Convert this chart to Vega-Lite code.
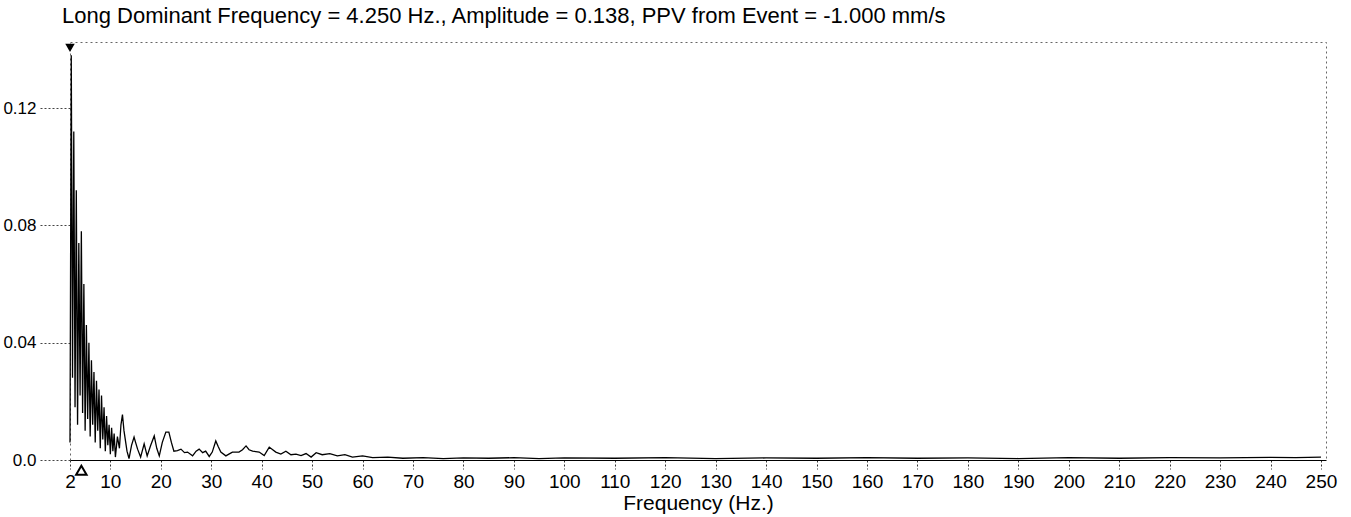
{
  "$schema": "https://vega.github.io/schema/vega-lite/v6.json",
  "width": 1256,
  "height": 418,
  "autosize": {"type": "none"},
  "padding": {"left": 70, "top": 42, "right": 25, "bottom": 57},
  "background": "white",
  "config": {
    "font": "Liberation Sans",
    "view": {"stroke": "#666", "strokeDash": [2, 3], "strokeWidth": 1},
    "axis": {"labelColor": "black", "titleColor": "black", "labelFont": "Liberation Sans", "titleFont": "Liberation Sans"}
  },
  "title": {
    "text": "Long Dominant Frequency = 4.250 Hz., Amplitude = 0.138,  PPV from Event = -1.000 mm/s",
    "anchor": "start",
    "frame": "group",
    "fontSize": 22,
    "fontWeight": "normal",
    "font": "Liberation Sans",
    "color": "black",
    "dx": -8,
    "offset": 14
  },
  "datasets": {
    "spectrum": [
      {"f": 2.0, "a": 0.006}, {"f": 2.25, "a": 0.138}, {"f": 2.5, "a": 0.028}, {"f": 2.75, "a": 0.112},
      {"f": 3.0, "a": 0.018}, {"f": 3.25, "a": 0.092}, {"f": 3.5, "a": 0.012}, {"f": 3.75, "a": 0.074},
      {"f": 4.0, "a": 0.022}, {"f": 4.25, "a": 0.078}, {"f": 4.5, "a": 0.016}, {"f": 4.75, "a": 0.06},
      {"f": 5.0, "a": 0.01}, {"f": 5.25, "a": 0.046}, {"f": 5.5, "a": 0.014}, {"f": 5.75, "a": 0.04},
      {"f": 6.0, "a": 0.008}, {"f": 6.25, "a": 0.034}, {"f": 6.5, "a": 0.012}, {"f": 6.75, "a": 0.03},
      {"f": 7.0, "a": 0.006}, {"f": 7.25, "a": 0.027}, {"f": 7.5, "a": 0.01}, {"f": 7.75, "a": 0.024},
      {"f": 8.0, "a": 0.004}, {"f": 8.25, "a": 0.022}, {"f": 8.5, "a": 0.007}, {"f": 8.75, "a": 0.018},
      {"f": 9.0, "a": 0.003}, {"f": 9.25, "a": 0.015}, {"f": 9.5, "a": 0.005}, {"f": 9.75, "a": 0.012},
      {"f": 10.0, "a": 0.002}, {"f": 10.25, "a": 0.011}, {"f": 10.5, "a": 0.003}, {"f": 10.75, "a": 0.009},
      {"f": 11.0, "a": 0.001}, {"f": 11.4, "a": 0.008}, {"f": 11.8, "a": 0.004}, {"f": 12.1, "a": 0.012},
      {"f": 12.4, "a": 0.0155}, {"f": 12.7, "a": 0.01}, {"f": 13.0, "a": 0.0065}, {"f": 13.3, "a": 0.003},
      {"f": 13.7, "a": 0.0005}, {"f": 14.2, "a": 0.005}, {"f": 14.7, "a": 0.0078}, {"f": 15.0, "a": 0.006},
      {"f": 15.4, "a": 0.0037}, {"f": 16.0, "a": 0.001}, {"f": 16.7, "a": 0.0055}, {"f": 17.3, "a": 0.0014},
      {"f": 18.0, "a": 0.005}, {"f": 18.7, "a": 0.0082}, {"f": 19.2, "a": 0.004}, {"f": 19.7, "a": 0.0014},
      {"f": 20.3, "a": 0.006}, {"f": 21.0, "a": 0.0095}, {"f": 21.6, "a": 0.0095}, {"f": 22.1, "a": 0.006},
      {"f": 22.6, "a": 0.003}, {"f": 23.3, "a": 0.0032}, {"f": 24.0, "a": 0.0037}, {"f": 24.7, "a": 0.0025},
      {"f": 25.3, "a": 0.0027}, {"f": 26.3, "a": 0.0014}, {"f": 27.0, "a": 0.003}, {"f": 27.6, "a": 0.0037},
      {"f": 28.3, "a": 0.0025}, {"f": 28.9, "a": 0.003}, {"f": 29.6, "a": 0.0012}, {"f": 30.2, "a": 0.0027},
      {"f": 30.9, "a": 0.0065}, {"f": 31.4, "a": 0.0045}, {"f": 31.9, "a": 0.0027}, {"f": 32.9, "a": 0.0014},
      {"f": 33.5, "a": 0.002}, {"f": 34.2, "a": 0.0027}, {"f": 35.5, "a": 0.0027}, {"f": 36.2, "a": 0.0035},
      {"f": 36.9, "a": 0.0048}, {"f": 37.5, "a": 0.0035}, {"f": 38.2, "a": 0.003}, {"f": 39.5, "a": 0.0027},
      {"f": 40.5, "a": 0.0015}, {"f": 41.5, "a": 0.0044}, {"f": 42.8, "a": 0.0027}, {"f": 43.8, "a": 0.002},
      {"f": 44.8, "a": 0.003}, {"f": 45.8, "a": 0.0018}, {"f": 46.8, "a": 0.002}, {"f": 47.8, "a": 0.0015},
      {"f": 48.8, "a": 0.0022}, {"f": 49.8, "a": 0.001}, {"f": 50.8, "a": 0.0025}, {"f": 52.0, "a": 0.0018},
      {"f": 53.5, "a": 0.0022}, {"f": 55.0, "a": 0.0014}, {"f": 56.5, "a": 0.0018}, {"f": 58.0, "a": 0.001},
      {"f": 60.0, "a": 0.0014}, {"f": 62.0, "a": 0.0008}, {"f": 65.0, "a": 0.001}, {"f": 68.0, "a": 0.0006},
      {"f": 72.0, "a": 0.0008}, {"f": 76.0, "a": 0.0005}, {"f": 80.0, "a": 0.0007}, {"f": 85.0, "a": 0.0006},
      {"f": 90.0, "a": 0.0008}, {"f": 95.0, "a": 0.0005}, {"f": 100.0, "a": 0.0007}, {"f": 110.0, "a": 0.0006},
      {"f": 120.0, "a": 0.0008}, {"f": 130.0, "a": 0.0005}, {"f": 140.0, "a": 0.0007}, {"f": 150.0, "a": 0.0006},
      {"f": 160.0, "a": 0.0008}, {"f": 170.0, "a": 0.0006}, {"f": 180.0, "a": 0.0007}, {"f": 190.0, "a": 0.0005},
      {"f": 200.0, "a": 0.0008}, {"f": 210.0, "a": 0.0006}, {"f": 220.0, "a": 0.0008}, {"f": 230.0, "a": 0.0007},
      {"f": 240.0, "a": 0.0009}, {"f": 245.0, "a": 0.0008}, {"f": 250.0, "a": 0.001}
    ],
    "topCursor": [{"f": 2.0, "a": 0.1405}],
    "bottomCursor": [{"f": 4.25, "a": -0.0035}]
  },
  "layer": [
    {
      "data": {"name": "spectrum"},
      "mark": {"type": "line", "color": "black", "strokeWidth": 1.3, "interpolate": "linear"},
      "encoding": {
        "x": {
          "field": "f", "type": "quantitative",
          "scale": {"domain": [2, 251], "nice": false, "zero": false},
          "axis": {
            "values": [2, 10, 20, 30, 40, 50, 60, 70, 80, 90, 100, 110, 120, 130, 140, 150, 160, 170, 180, 190, 200, 210, 220, 230, 240, 250],
            "title": "Frequency (Hz.)",
            "titleFontSize": 21, "titleFontWeight": "normal", "titlePadding": 1,
            "labelFontSize": 19, "labelPadding": 3, "labelFlush": false,
            "tickSize": 9, "tickDash": [2, 2], "tickColor": "#333",
            "domain": true, "domainColor": "black", "domainWidth": 1,
            "grid": false
          }
        },
        "y": {
          "field": "a", "type": "quantitative",
          "scale": {"domain": [0, 0.1425], "nice": false},
          "axis": {
            "values": [0, 0.04, 0.08, 0.12],
            "labelExpr": "datum.value == 0 ? '0.0' : format(datum.value, '.2f')",
            "title": null,
            "labelFontSize": 17, "labelPadding": 2,
            "tickSize": 32, "tickDash": [2, 2], "tickColor": "#444",
            "domain": false, "grid": false
          }
        }
      }
    },
    {
      "data": {"name": "topCursor"},
      "mark": {"type": "point", "shape": "triangle-down", "filled": true, "color": "black", "size": 90, "opacity": 1, "clip": false},
      "encoding": {"x": {"field": "f", "type": "quantitative"}, "y": {"field": "a", "type": "quantitative"}}
    },
    {
      "data": {"name": "bottomCursor"},
      "mark": {"type": "point", "shape": "triangle-up", "filled": false, "color": "black", "strokeWidth": 2, "size": 110, "opacity": 1, "clip": false},
      "encoding": {"x": {"field": "f", "type": "quantitative"}, "y": {"field": "a", "type": "quantitative"}}
    }
  ]
}
